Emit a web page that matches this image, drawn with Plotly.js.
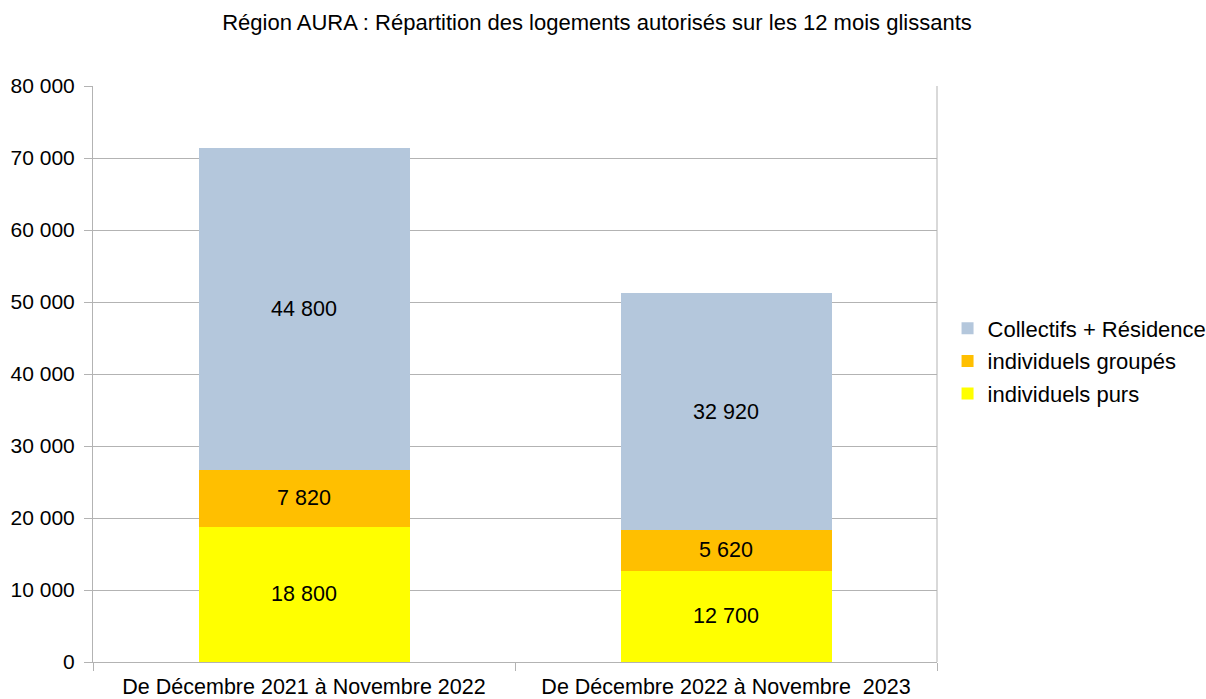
<!DOCTYPE html>
<html>
<head>
<meta charset="utf-8">
<script src="https://cdn.plot.ly/plotly-3.0.1.min.js"></script>
<style>body{margin:0;background:#fff}#chart{width:1206px;height:699px}</style>
</head>
<body>
<div id="chart"></div>
<script>
const categories = ["De Décembre 2021 à Novembre 2022", "De Décembre 2022 à Novembre\u00a0 2023"];
const individuelsPurs = [18800, 12700];
const individuelsGroupes = [7820, 5620];
const collectifsResidence = [44800, 32920];
const seriesNames = ["individuels purs", "individuels groupés", "Collectifs + Résidence"];
const tickVals = [0, 10000, 20000, 30000, 40000, 50000, 60000, 70000, 80000];

const colors = ["#ffff00", "#ffbf00", "#b4c7dc"];
const font = "Liberation Sans, Arial, sans-serif";

const data = [individuelsPurs, individuelsGroupes, collectifsResidence].map((vals, i) => ({
  type: "bar",
  x: categories,
  y: vals,
  name: seriesNames[i],
  legendgroup: "g" + i,
  legendrank: 3 - i,
  marker: {color: colors[i], line: {width: 0}},
  texttemplate: "%{y:,}",
  textposition: "inside",
  insidetextanchor: "middle",
  textangle: 0,
  textfont: {family: font, size: 21.5, color: "#000"},
  hoverinfo: "skip"
}));

const layout = {
  width: 1206, height: 699,
  separators: ", ",
  barmode: "stack",
  bargap: 0.5,
  paper_bgcolor: "#fff",
  plot_bgcolor: "#fff",
  margin: {l: 93, r: 269, t: 86, b: 37, pad: 0, autoexpand: false},
  font: {family: font, color: "#000"},
  title: {text: "Région AURA : Répartition des logements autorisés sur les 12 mois glissants",
          font: {family: font, size: 22, color: "#000"},
          xref: "container", x: 0.495, xanchor: "center", yref: "container", y: 0.968, yanchor: "middle"},
  xaxis: {
    type: "category",
    tickson: "boundaries",
    ticks: "outside", ticklen: 8, tickcolor: "#b3b3b3", tickwidth: 1,
    showline: true, linecolor: "#b3b3b3", linewidth: 1,
    showgrid: false,
    ticklabelstandoff: 5,
    tickfont: {family: font, size: 21.5, color: "#000"}
  },
  yaxis: {
    range: [0, 80000],
    tickvals: tickVals,
    tickformat: ",d",
    ticks: "outside", ticklen: 8, tickcolor: "#b3b3b3",
    showline: true, linecolor: "#b3b3b3",
    showgrid: true, gridcolor: "#b3b3b3", gridwidth: 1,
    zeroline: false,
    ticklabelstandoff: 5,
    tickfont: {family: font, size: 21, color: "#000"}
  },
  shapes: [{type: "line", xref: "paper", yref: "paper", x0: 1, x1: 1, y0: 0, y1: 1, line: {color: "#b3b3b3", width: 1}}],
  legend: {
    x: 1.0125, xanchor: "left", y: 0.5226, yanchor: "middle",
    traceorder: "grouped",
    tracegroupgap: 1,
    bgcolor: "rgba(0,0,0,0)",
    font: {family: font, size: 22, color: "#000"},
    itemclick: false
  },
  showlegend: true
};

Plotly.newPlot("chart", data, layout, {displayModeBar: false, staticPlot: true});
</script>
</body>
</html>
